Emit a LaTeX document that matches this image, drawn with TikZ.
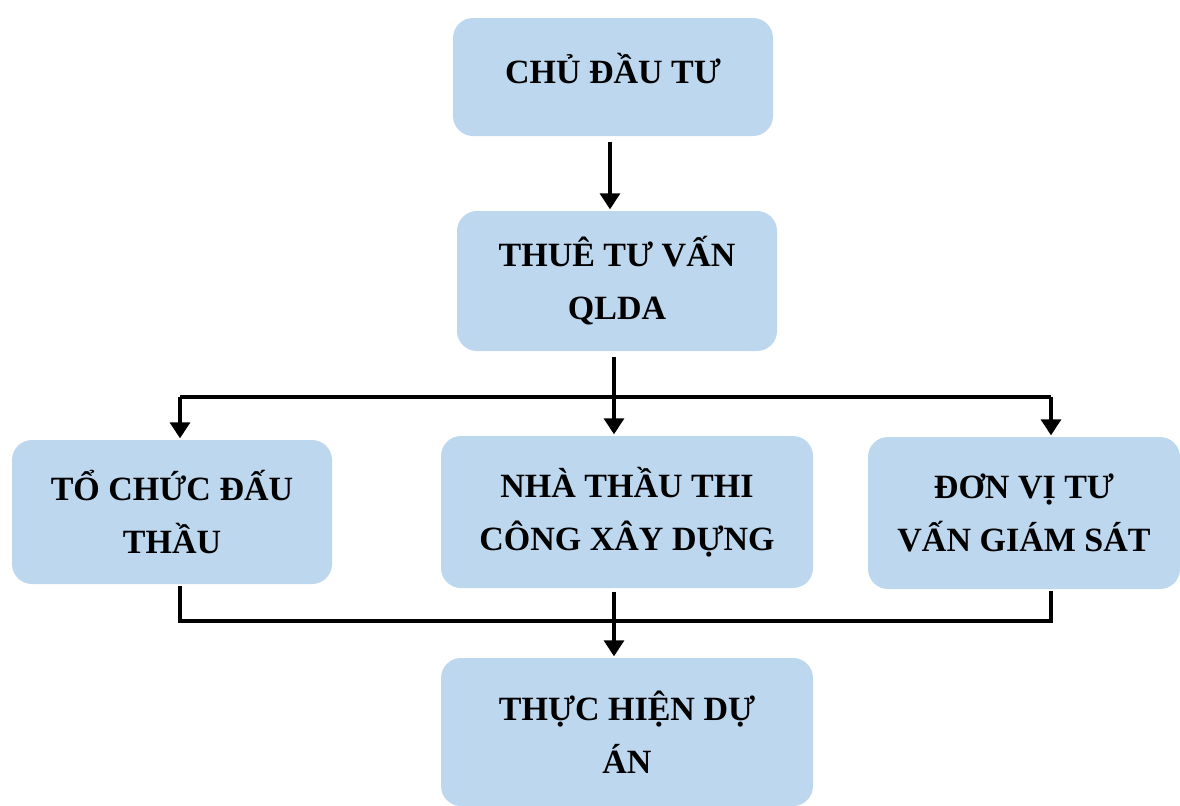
\documentclass[tikz,border=0pt]{standalone}
\usepackage{fontspec}
\setmainfont{Liberation Serif}
\usetikzlibrary{arrows.meta}
\definecolor{boxblue}{HTML}{BDD7EE}
\begin{document}
\begin{tikzpicture}[x=0.5pt,y=-0.5pt,
	box/.style={fill=boxblue,rounded corners=10pt,inner sep=0pt,align=center,
		font=\fontsize{17}{26.5}\selectfont\bfseries},
	arr/.style={-{Triangle[width=10pt,length=8pt]}},
	line width=1.7pt]
	\useasboundingbox (0,0) rectangle (1180,805);
	\node[box,minimum width=160pt,minimum height=59pt,text depth=9pt](chu) at (613,77) {CHỦ ĐẦU TƯ};
	\node[box,minimum width=160pt,minimum height=70pt](qlda) at (617,281) {THUÊ TƯ VẤN\\QLDA};
	\node[box,minimum width=160pt,minimum height=72pt](tochuc) at (172,512) {TỔ CHỨC ĐẤU\\THẦU};
	\node[box,minimum width=186pt,minimum height=76pt](nhathau) at (627,512) {NHÀ THẦU THI\\CÔNG XÂY DỰNG};
	\node[box,minimum width=156pt,minimum height=76pt](donvi) at (1024,513) {ĐƠN VỊ TƯ\\VẤN GIÁM SÁT};
	\node[box,minimum width=186pt,minimum height=74pt](thuchien) at (627,732) {THỰC HIỆN DỰ\\ÁN};
	\coordinate (lt) at (180,397);
	\coordinate (mt) at (614,397);
	\coordinate (rt) at (1051,397);
	\coordinate (lb) at (180,621);
	\coordinate (mb) at (614,621);
	\coordinate (rb) at (1051,621);
	\draw[arr,shorten <=2pt] (chu.south -| 610,0) -- (qlda.north -| 610,0);
	\draw (lt) -- (rt);
	\draw[arr,shorten <=2pt] (qlda.south -| mt) -- (nhathau.north -| mt);
	\draw[arr] (lt) -- (tochuc.north -| lt);
	\draw[arr] (rt) -- (donvi.north -| rt);
	\draw (tochuc.south -| lb) -- (lb) -- (rb) -- (donvi.south -| rb);
	\draw[arr,shorten <=1pt] (nhathau.south -| mb) -- (thuchien.north -| mb);
\end{tikzpicture}
\end{document}
